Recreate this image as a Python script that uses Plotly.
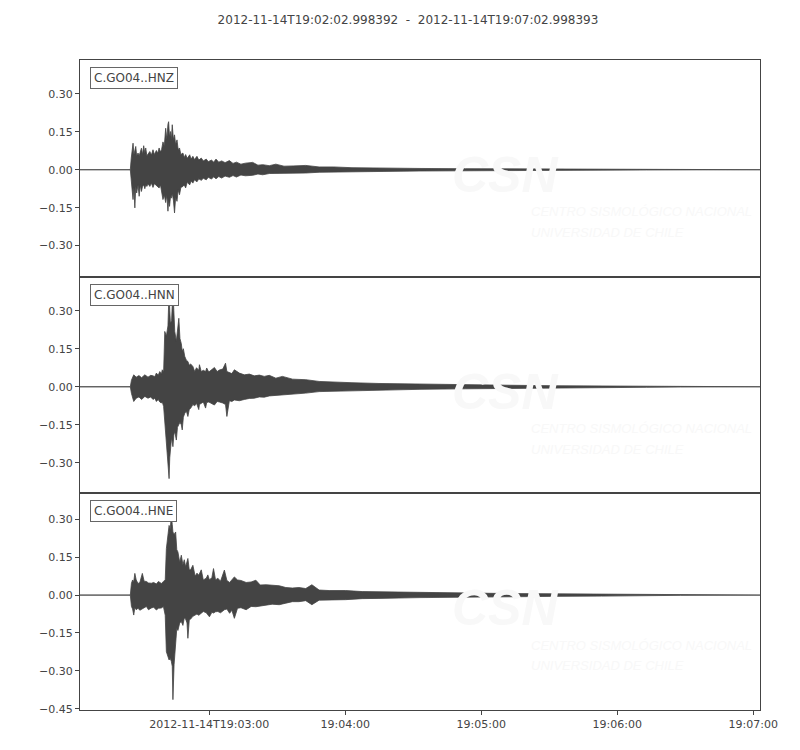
import pandas as pd
import plotly.graph_objects as go
from plotly.subplots import make_subplots

# trace start; all times below are seconds after this
start = pd.Timestamp("2012-11-14 19:02:02.998392")
title = "2012-11-14T19:02:02.998392  -  2012-11-14T19:07:02.998393"
labels = ["C.GO04..HNZ", "C.GO04..HNN", "C.GO04..HNE"]

# envelope of each seismogram: time (s), max and min in each window
hnz_t = [0, 22.2, 22.6, 23.0, 23.4, 23.8, 24.2, 24.6, 25.0, 25.6,
         26.1, 26.6, 27.1, 27.6, 28.1, 28.6, 29.0, 29.5, 30.0, 30.8,
         31.5, 32.2, 32.8, 33.7, 34.3, 34.9, 35.5, 36.0, 36.6, 37.2,
         37.8, 38.3, 38.8, 39.1, 39.5, 39.9, 40.3, 40.7, 41.2, 41.7,
         42.2, 42.8, 43.3, 43.9, 44.5, 45.4, 46.0, 46.6, 47.3, 48.4,
         49.0, 49.8, 50.5, 51.6, 52.4, 53.5, 54.4, 55.7, 56.6, 58.0,
         59.0, 60.0, 61.2, 62.5, 64.0, 65.9, 67.5, 69.0, 71.0, 73.0,
         76.2, 78.5, 80.6, 83.5, 86.4, 90.0, 94.0, 99.6, 105.5, 112,
         120, 131.9, 150, 170, 190, 210, 230, 250, 300]
hnz_max = [0, 0, 0.045, 0.070, 0.105, 0.060, 0.075, 0.092, 0.055, 0.066,
           0.055, 0.070, 0.085, 0.060, 0.095, 0.065, 0.086, 0.055, 0.060, 0.072,
           0.058, 0.079, 0.060, 0.076, 0.065, 0.086, 0.070, 0.080, 0.110, 0.095,
           0.164, 0.120, 0.180, 0.190, 0.130, 0.151, 0.120, 0.178, 0.120, 0.138,
           0.100, 0.118, 0.080, 0.086, 0.060, 0.066, 0.048, 0.060, 0.045, 0.059,
           0.042, 0.053, 0.040, 0.053, 0.038, 0.046, 0.035, 0.042, 0.032, 0.038,
           0.030, 0.042, 0.030, 0.035, 0.028, 0.036, 0.025, 0.030, 0.022, 0.026,
           0.029, 0.018, 0.020, 0.016, 0.022, 0.014, 0.015, 0.017, 0.011, 0.011,
           0.008, 0.006, 0.005, 0.004, 0.003, 0.002, 0.0015, 0.001, 0]
hnz_min = [0, 0, -0.045, -0.080, -0.118, -0.070, -0.151, -0.065, -0.092, -0.060,
           -0.105, -0.060, -0.086, -0.065, -0.060, -0.075, -0.060, -0.066, -0.055, -0.066,
           -0.053, -0.070, -0.055, -0.063, -0.068, -0.072, -0.060, -0.080, -0.118, -0.100,
           -0.130, -0.100, -0.164, -0.120, -0.145, -0.110, -0.112, -0.095, -0.120, -0.171,
           -0.110, -0.125, -0.080, -0.099, -0.070, -0.066, -0.060, -0.072, -0.050, -0.060,
           -0.045, -0.053, -0.040, -0.048, -0.036, -0.042, -0.034, -0.040, -0.030, -0.037,
           -0.028, -0.036, -0.027, -0.033, -0.025, -0.030, -0.023, -0.029, -0.021, -0.024,
           -0.022, -0.017, -0.020, -0.015, -0.016, -0.013, -0.014, -0.013, -0.010, -0.010,
           -0.008, -0.007, -0.005, -0.004, -0.003, -0.002, -0.0015, -0.001, 0]

hnn_t = [0, 22.2, 22.7, 23.7, 24.8, 26.0, 27.2, 28.6, 30.0, 31.2,
         32.2, 33.0, 33.7, 34.5, 35.2, 35.9, 36.3, 36.9, 37.4, 38.1,
         38.8, 39.3, 39.6, 39.9, 40.4, 41.0, 41.4, 41.8, 42.5, 43.0,
         43.6, 44.1, 44.7, 45.1, 45.6, 46.2, 46.9, 47.6, 48.2, 48.8,
         49.8, 50.6, 51.4, 52.4, 52.7, 53.5, 54.4, 55.4, 55.9, 56.8,
         57.8, 59.3, 60.5, 61.5, 63.0, 64.2, 64.8, 65.9, 67.0, 68.1,
         70.3, 72.5, 74.7, 76.9, 79.1, 81.3, 83.5, 86.4, 89.3, 93.8,
         99.6, 105.5, 112, 120, 131.9, 150, 170, 190, 210, 230,
         250, 265, 300]
hnn_max = [0, 0, 0.026, 0.047, 0.038, 0.044, 0.036, 0.047, 0.038, 0.045,
           0.043, 0.040, 0.054, 0.045, 0.060, 0.050, 0.067, 0.060, 0.218, 0.200,
           0.240, 0.380, 0.300, 0.250, 0.260, 0.380, 0.300, 0.218, 0.180, 0.230,
           0.270, 0.190, 0.170, 0.140, 0.150, 0.120, 0.105, 0.100, 0.085, 0.090,
           0.080, 0.060, 0.075, 0.065, 0.087, 0.060, 0.065, 0.060, 0.074, 0.058,
           0.066, 0.076, 0.060, 0.066, 0.070, 0.093, 0.060, 0.057, 0.052, 0.067,
           0.054, 0.047, 0.050, 0.043, 0.046, 0.041, 0.045, 0.034, 0.041, 0.030,
           0.028, 0.021, 0.020, 0.016, 0.013, 0.010, 0.008, 0.006, 0.004, 0.003,
           0.002, 0.001, 0]
hnn_min = [0, 0, -0.026, -0.058, -0.045, -0.040, -0.050, -0.038, -0.045, -0.040,
           -0.050, -0.045, -0.058, -0.050, -0.060, -0.064, -0.060, -0.078, -0.150, -0.222,
           -0.300, -0.362, -0.280, -0.250, -0.200, -0.236, -0.190, -0.176, -0.210, -0.160,
           -0.150, -0.140, -0.150, -0.170, -0.120, -0.105, -0.095, -0.117, -0.090, -0.085,
           -0.070, -0.075, -0.065, -0.090, -0.070, -0.065, -0.060, -0.084, -0.062, -0.060,
           -0.066, -0.072, -0.058, -0.060, -0.064, -0.070, -0.117, -0.055, -0.058, -0.052,
           -0.055, -0.050, -0.046, -0.045, -0.040, -0.041, -0.036, -0.034, -0.032, -0.030,
           -0.025, -0.019, -0.018, -0.016, -0.013, -0.010, -0.008, -0.006, -0.004, -0.003,
           -0.002, -0.001, 0]

hne_t = [0, 22.2, 22.7, 23.2, 23.7, 24.2, 24.8, 25.6, 26.4, 27.5,
         28.3, 29.3, 30.2, 31.5, 32.5, 33.7, 34.6, 35.9, 36.8, 37.6,
         38.1, 38.7, 39.3, 39.8, 40.3, 40.7, 41.0, 41.5, 42.2, 42.7,
         43.2, 44.0, 44.7, 45.4, 46.0, 46.6, 47.2, 47.6, 48.2, 48.8,
         49.8, 50.8, 51.6, 52.4, 53.5, 54.4, 55.7, 56.4, 57.1, 58.2,
         58.9, 59.8, 60.8, 62.0, 63.7, 64.8, 66.0, 67.0, 68.1, 69.5,
         71.0, 73.3, 75.5, 77.6, 79.5, 82.1, 84.8, 87.9, 90.8, 93.7,
         96.6, 99.6, 102.3, 105.5, 109.9, 117.2, 124.5, 131.9, 150, 170,
         190, 210, 230, 250, 265, 300]
hne_max = [0, 0, 0.047, 0.060, 0.053, 0.086, 0.060, 0.046, 0.050, 0.086,
           0.055, 0.054, 0.048, 0.047, 0.050, 0.044, 0.054, 0.046, 0.054, 0.060,
           0.184, 0.230, 0.276, 0.260, 0.316, 0.280, 0.250, 0.240, 0.250, 0.180,
           0.171, 0.130, 0.158, 0.120, 0.140, 0.112, 0.130, 0.145, 0.100, 0.100,
           0.118, 0.075, 0.087, 0.079, 0.100, 0.060, 0.067, 0.080, 0.060, 0.070,
           0.105, 0.060, 0.067, 0.055, 0.099, 0.058, 0.050, 0.060, 0.072, 0.060,
           0.058, 0.050, 0.052, 0.059, 0.040, 0.041, 0.038, 0.037, 0.030, 0.028,
           0.030, 0.026, 0.041, 0.020, 0.018, 0.018, 0.014, 0.013, 0.010, 0.008,
           0.006, 0.005, 0.004, 0.003, 0.001, 0]
hne_min = [0, 0, -0.045, -0.055, -0.079, -0.050, -0.058, -0.052, -0.060, -0.055,
           -0.050, -0.045, -0.058, -0.051, -0.048, -0.059, -0.052, -0.051, -0.045, -0.080,
           -0.224, -0.240, -0.257, -0.250, -0.263, -0.282, -0.414, -0.276, -0.180, -0.132,
           -0.140, -0.110, -0.105, -0.120, -0.091, -0.095, -0.110, -0.171, -0.100, -0.095,
           -0.084, -0.080, -0.075, -0.080, -0.071, -0.065, -0.070, -0.075, -0.086, -0.068,
           -0.071, -0.066, -0.065, -0.070, -0.058, -0.055, -0.072, -0.060, -0.092, -0.052,
           -0.050, -0.058, -0.045, -0.046, -0.042, -0.040, -0.036, -0.038, -0.032, -0.026,
           -0.026, -0.022, -0.038, -0.020, -0.021, -0.018, -0.014, -0.013, -0.010, -0.008,
           -0.006, -0.005, -0.004, -0.003, -0.001, 0]

y_ranges = [[-0.423, 0.434], [-0.42, 0.434], [-0.455, 0.403]]
y_ticks = [[-0.30, -0.15, 0.0, 0.15, 0.30],
           [-0.30, -0.15, 0.0, 0.15, 0.30],
           [-0.45, -0.30, -0.15, 0.0, 0.15, 0.30]]
x_tick_sec = [57.001608, 117.001608, 177.001608, 237.001608, 297.001608]
x_tick_text = ["2012-11-14T19:03:00", "19:04:00", "19:05:00", "19:06:00", "19:07:00"]

traces = [(hnz_t, hnz_max, hnz_min), (hnn_t, hnn_max, hnn_min), (hne_t, hne_max, hne_min)]

col = "#444444"
mark = "#f8f8f8"


def to_time(secs):
    return list(start + pd.to_timedelta(secs, unit="s"))


fig = make_subplots(rows=3, cols=1, shared_xaxes=True, vertical_spacing=0)

for i, (t, mx, mn) in enumerate(traces):
    assert len(t) == len(mx) == len(mn)
    xs = to_time(t) + to_time(t[::-1])
    ys = mx + mn[::-1]
    fig.add_trace(go.Scatter(x=xs, y=ys, mode="lines", fill="toself", fillcolor=col,
                             line=dict(color=col, width=0.8), hoverinfo="skip",
                             showlegend=False), row=i + 1, col=1)

    yref = "y domain" if i == 0 else "y%d domain" % (i + 1)
    xref = "x domain" if i == 0 else "x%d domain" % (i + 1)
    # faint CSN watermark
    fig.add_annotation(xref=xref, yref=yref, x=0.625, y=0.47, text="<b><i>CSN</i></b>",
                       showarrow=False, font=dict(size=50, color=mark,
                                                  family="Liberation Sans"))
    fig.add_annotation(xref=xref, yref=yref, x=0.66, y=0.255, xanchor="left",
                       text="<i>CENTRO SISMOLÓGICO NACIONAL</i>", showarrow=False,
                       font=dict(size=13, color=mark, family="Liberation Sans"))
    fig.add_annotation(xref=xref, yref=yref, x=0.66, y=0.16, xanchor="left",
                       text="<i>UNIVERSIDAD DE CHILE</i>", showarrow=False,
                       font=dict(size=13, color=mark, family="Liberation Sans"))
    fig.add_annotation(xref=xref, yref=yref, x=0.015, y=0.968, xanchor="left",
                       yanchor="top", text=labels[i], showarrow=False,
                       bgcolor="white", bordercolor="#666666", borderwidth=1, borderpad=3,
                       font=dict(size=12, color=col))

    fig.update_yaxes(range=y_ranges[i], tickvals=y_ticks[i],
                     ticktext=[("%.2f" % v).replace("-", "\u2212") for v in y_ticks[i]],
                     row=i + 1, col=1)

fig.update_yaxes(showgrid=False, zeroline=False, showline=True, mirror=True,
                 linecolor=col, linewidth=1, ticks="outside", ticklen=4, tickcolor=col,
                 tickfont=dict(size=11, color=col))
fig.update_xaxes(showgrid=False, zeroline=False, showline=True, mirror=True,
                 linecolor=col, linewidth=1,
                 range=[start, start + pd.Timedelta(seconds=300)])
fig.update_xaxes(tickvals=to_time(x_tick_sec), ticktext=x_tick_text, ticks="outside",
                 ticklen=4, tickcolor=col, tickfont=dict(size=11, color=col), row=3, col=1)

# the page adds an 8px body margin, so the margins are shifted by that much
fig.update_layout(
    width=800, height=750,
    margin=dict(l=72, r=48, t=52, b=48),
    paper_bgcolor="white", plot_bgcolor="white",
    font=dict(family="DejaVu Sans", color=col),
    title=dict(text=title, x=0.5, xanchor="center", y=0.984, yanchor="middle",
               font=dict(size=12, color=col)),
)

fig.write_html("out.html")
